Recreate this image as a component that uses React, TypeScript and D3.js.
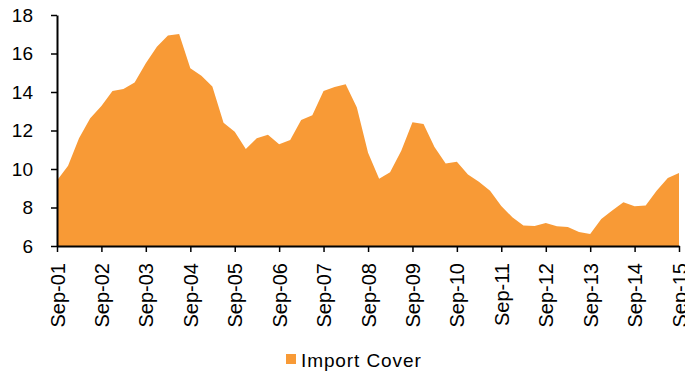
import React, { useEffect, useRef } from "react";
import * as d3 from "d3";

// quarterly import cover, Sep-01 .. Sep-15
const importCover = [
  9.4, 10.17, 11.6, 12.63, 13.27, 14.05, 14.16, 14.5, 15.49, 16.35,
  16.94, 17.01, 15.23, 14.85, 14.28, 12.4, 11.94, 11.04, 11.6, 11.78,
  11.28, 11.51, 12.55, 12.79, 14.05, 14.26, 14.4, 13.19, 10.85, 9.5,
  9.83, 10.95, 12.43, 12.34, 11.14, 10.29, 10.38, 9.71, 9.34, 8.87,
  8.08, 7.49, 7.07, 7.04, 7.19, 7.02, 6.99, 6.73, 6.62, 7.4,
  7.85, 8.27, 8.06, 8.11, 8.87, 9.53, 9.79,
];
const startDate = new Date(2001, 8, 1);
const yTicks = [6, 8, 10, 12, 14, 16, 18];
const seriesName = "Import Cover";

export default function App() {
  const ref = useRef<SVGSVGElement>(null);

  useEffect(() => {
    const width = 685;
    const height = 372;
    const margin = { top: 15, right: 6, bottom: 126, left: 57 };

    const data = importCover.map((v, i) => ({
      date: d3.timeMonth.offset(startDate, i * 3),
      value: v,
    }));

    d3.select(ref.current).selectAll("*").remove();
    const svg = d3.select(ref.current)
      .attr("width", width)
      .attr("height", height);

    const x = d3.scaleTime()
      .domain([data[0].date, data[data.length - 1].date])
      .range([margin.left, width - margin.right]);

    const y = d3.scaleLinear()
      .domain([6, 18])
      .range([height - margin.bottom, margin.top]);

    const area = d3.area<{ date: Date; value: number }>()
      .x(d => x(d.date))
      .y0(y(6))
      .y1(d => y(d.value));

    svg.append("path")
      .datum(data)
      .attr("d", area)
      .attr("fill", "#f89a36");

    const yAxis = svg.append("g")
      .attr("transform", `translate(${margin.left},0)`)
      .call(d3.axisLeft(y).tickValues(yTicks).tickSize(6).tickPadding(18).tickSizeOuter(0));
    yAxis.select(".domain").attr("stroke-width", 2);
    yAxis.selectAll("line").attr("stroke-width", 1.5);
    yAxis.selectAll("text")
      .style("font-family", "Liberation Sans, Arial, sans-serif")
      .style("font-size", "19px")
      .attr("fill", "#000");

    const xTicks = data.filter((d, i) => i % 4 === 0).map(d => d.date);
    const xAxis = svg.append("g")
      .attr("transform", `translate(0,${y(6)})`)
      .call(d3.axisBottom(x).tickValues(xTicks).tickSize(6).tickSizeOuter(0)
        .tickFormat(d => d3.timeFormat("%b-%y")(d as Date)));
    xAxis.select(".domain").attr("stroke-width", 2);
    xAxis.selectAll("line").attr("stroke-width", 1.5);
    xAxis.selectAll("text")
      .attr("transform", "rotate(-90)")
      .attr("x", -17)
      .attr("y", 0)
      .attr("dy", "0.35em")
      .attr("text-anchor", "end")
      .style("font-family", "Liberation Sans, Arial, sans-serif")
      .style("font-size", "20px")
      .attr("fill", "#000");

    const legend = svg.append("g").attr("transform", "translate(286,354)");
    legend.append("rect")
      .attr("width", 10)
      .attr("height", 10)
      .attr("fill", "#f89a36");
    legend.append("text")
      .attr("x", 15)
      .attr("y", 12.5)
      .style("font-family", "Liberation Sans, Arial, sans-serif")
      .style("font-size", "19px")
      .style("letter-spacing", "0.9px")
      .text(seriesName);
  }, []);

  return (
    <div style={{ position: "absolute", left: 0, top: 0 }}>
      <svg ref={ref}></svg>
    </div>
  );
}
